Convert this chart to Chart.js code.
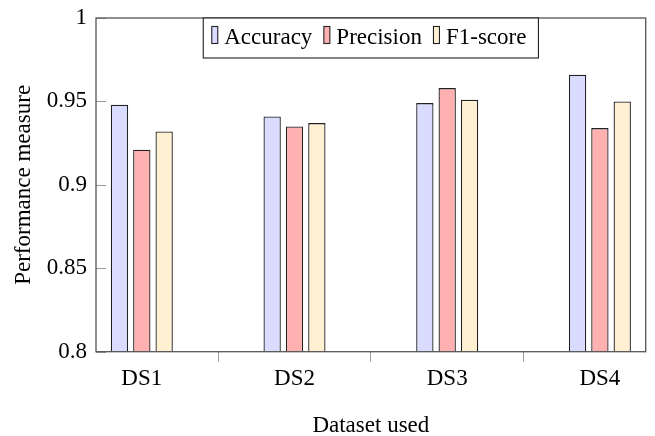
<!DOCTYPE html>
<html>
<head>
<meta charset="utf-8">
<script src="https://cdn.jsdelivr.net/npm/chart.js@4.4.0/dist/chart.umd.min.js"></script>
<style>
  html, body { margin: 0; padding: 0; background: #fff; }
  canvas { display: block; }
</style>
</head>
<body>
<canvas id="chart" width="655" height="436"></canvas>
<script>
// Dataset results
const categories = ['DS1', 'DS2', 'DS3', 'DS4'];
const accuracy  = [0.948, 0.941, 0.949, 0.966];
const precision = [0.921, 0.935, 0.958, 0.934];
const f1score   = [0.932, 0.937, 0.951, 0.950];
const yTicks    = [0.8, 0.85, 0.9, 0.95, 1];

const FONT = '"Liberation Serif", "Times New Roman", Times, "DejaVu Serif", serif';
const FRAME = '#555555';
const TICK = '#9a9a9a';
const PLOT = { left: 96, top: 18, right: 645.7, bottom: 351.7 };

function points(values) {
  return values.map((v, i) => ({ x: i, y: v }));
}

// Pin the plot rectangle so the axes sit at fixed pixel positions
const pinAreaPlugin = {
  id: 'pinArea',
  afterLayout(chart) {
    const a = chart.chartArea;
    a.left = PLOT.left; a.top = PLOT.top; a.right = PLOT.right; a.bottom = PLOT.bottom;
    a.width = a.right - a.left; a.height = a.bottom - a.top;
    const { x, y } = chart.scales;
    x.left = a.left; x.right = a.right; x.width = a.width;
    x.top = a.bottom; x.bottom = chart.height; x.height = x.bottom - x.top;
    y.top = a.top; y.bottom = a.bottom; y.height = a.height;
    y.left = 0; y.right = a.left; y.width = a.left;
    x.configure(); y.configure();
  }
};

// Frame around the plot area plus inward y tick marks
const framePlugin = {
  id: 'frame',
  afterDatasetsDraw(chart) {
    const { ctx, chartArea: a, scales } = chart;
    ctx.save();
    ctx.strokeStyle = TICK;
    ctx.lineWidth = 1;
    yTicks.forEach(v => {
      const y = Math.round(scales.y.getPixelForValue(v)) + 0.5;
      ctx.beginPath();
      ctx.moveTo(a.left, y);
      ctx.lineTo(a.left + 10, y);
      ctx.stroke();
    });
    ctx.strokeStyle = FRAME;
    ctx.lineWidth = 1.3;
    ctx.strokeRect(a.left, a.top, a.right - a.left, a.bottom - a.top);
    ctx.restore();
  }
};

// Boxed legend placed inside the plot, centred at the top edge
const boxLegendPlugin = {
  id: 'boxLegend',
  afterDraw(chart) {
    const { ctx, chartArea: a } = chart;
    const sets = chart.data.datasets;
    ctx.save();
    ctx.font = '23px ' + FONT;
    const padL = 8.5, padR = 12, swW = 6, swH = 17, swGap = 6.5, itemGap = 11.5;
    const widths = sets.map(d => ctx.measureText(d.label).width);
    let total = padL + padR;
    widths.forEach((w, i) => { total += swW + swGap + w + (i < widths.length - 1 ? itemGap : 0); });
    const boxH = 40;
    const left = (a.left + a.right) / 2 - total / 2;
    const top = a.top;
    ctx.fillStyle = '#fff';
    ctx.fillRect(left, top, total, boxH);
    ctx.strokeStyle = '#222';
    ctx.lineWidth = 1.1;
    ctx.strokeRect(left, top, total, boxH);
    const base = top + 25.5;
    let x = left + padL;
    sets.forEach((d, i) => {
      ctx.fillStyle = d.backgroundColor;
      ctx.fillRect(x, base - swH, swW, swH);
      ctx.strokeStyle = '#222';
      ctx.lineWidth = 1.1;
      ctx.strokeRect(x, base - swH, swW, swH);
      x += swW + swGap;
      ctx.fillStyle = '#000';
      ctx.textBaseline = 'alphabetic';
      ctx.textAlign = 'left';
      ctx.fillText(d.label, x, base);
      x += widths[i] + itemGap;
    });
    ctx.restore();
  }
};

const barStyle = { borderColor: '#222', borderWidth: 1.3, categoryPercentage: 0.439, barPercentage: 0.776 };

new Chart(document.getElementById('chart'), {
  type: 'bar',
  data: {
    datasets: [
      Object.assign({ label: 'Accuracy',  data: points(accuracy),  backgroundColor: '#d9dcff' }, barStyle),
      Object.assign({ label: 'Precision', data: points(precision), backgroundColor: '#ffb0b0' }, barStyle),
      Object.assign({ label: 'F1-score',  data: points(f1score),   backgroundColor: '#fff0d2' }, barStyle)
    ]
  },
  options: {
    responsive: false,
    animation: false,
    devicePixelRatio: 1,
    layout: { padding: { left: 0, right: 9.3, top: 18, bottom: 0 } },
    plugins: { legend: { display: false }, tooltip: { enabled: false } },
    scales: {
      x: {
        type: 'linear',
        min: -0.3,
        max: 3.3,
        offset: false,
        afterBuildTicks: s => { s.ticks = categories.map((_, i) => ({ value: i })); },
        afterFit: s => { s.height = 84.3; },
        ticks: {
          callback: v => categories[v],
          font: { family: FONT, size: 23 },
          color: '#000',
          padding: 3,
          maxRotation: 0,
          autoSkip: false
        },
        grid: { drawOnChartArea: false, drawTicks: true, tickLength: 10, color: TICK, lineWidth: 1 },
        border: { display: false },
        title: {
          display: true,
          text: 'Dataset used',
          font: { family: FONT, size: 23, lineHeight: 1 },
          color: '#000',
          padding: { top: 0, bottom: -1 }
        }
      },
      y: {
        min: 0.8,
        max: 1,
        afterBuildTicks: s => { s.ticks = yTicks.map(v => ({ value: v })); },
        afterFit: s => { s.width = 96; },
        ticks: {
          callback: v => String(+v.toFixed(2)),
          font: { family: FONT, size: 23 },
          color: '#000',
          padding: 9
        },
        grid: { drawOnChartArea: false, drawTicks: false },
        border: { display: false },
        title: {
          display: true,
          text: 'Performance measure',
          font: { family: FONT, size: 23, lineHeight: 1 },
          color: '#000',
          padding: { top: 12.5, bottom: 0 }
        }
      }
    }
  },
  plugins: [pinAreaPlugin, framePlugin, boxLegendPlugin]
});
</script>
</body>
</html>
